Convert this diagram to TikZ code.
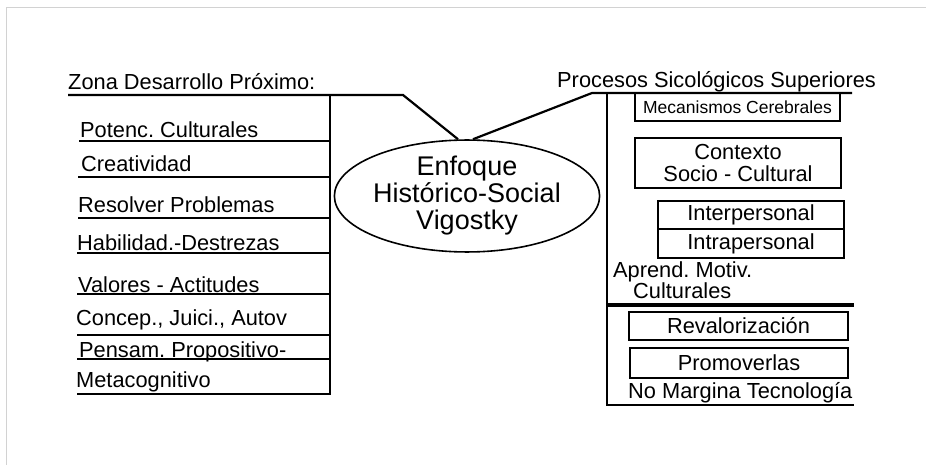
\documentclass[tikz,border=0pt]{standalone}
\usepackage{fontspec}
\setmainfont{Liberation Sans}
\usetikzlibrary{shapes.geometric}
\frenchspacing
\tikzset{
  txt/.style={anchor=base west, inner sep=0pt, font=\fontsize{21.8}{22}\selectfont},
  boxed/.style={draw, line width=1.8pt, inner sep=0pt, align=center, font=\fontsize{21.8}{22}\selectfont},
  rule/.style={line width=2.2pt}
}
\begin{document}
\begin{tikzpicture}[x=1pt, y=-1pt]
\useasboundingbox (0,0) rectangle (926,465);
\draw[gray!35, line width=1pt] (6,465) -- (6,8) -- (926,8);

\node[ellipse, draw, line width=1.6pt, minimum width=245pt, minimum height=108pt, inner sep=0pt, align=center, font=\fontsize{27}{27}\selectfont] (enf) at (467,196) {Enfoque\\Histórico-Social\\Vigostky};

\node[txt] (zona) at (68,90) {Zona Desarrollo Próximo:};
\coordinate (z0) at (68,95);
\coordinate (z1) at (403,95);
\coordinate (zv) at (330,95);
\coordinate (zb) at (330,395);
\draw[rule] (z0) -- (z1) -- ([xshift=-9pt]enf.north);
\draw[rule] (zv) -- (zb);

\node[txt] (pot) at (80,138) {Potenc. Culturales};
\node[txt] (cre) at (81,172) {Creatividad};
\node[txt] (res) at (78,213) {Resolver Problemas};
\node[txt] (hab) at (77,250) {Habilidad.-Destrezas};
\node[txt] (val) at (78,292) {Valores - Actitudes};
\node[txt] (con) at (76,325) {Concep., Juici., Autov};
\node[txt] (pen) at (79,357) {Pensam. Propositivo-};
\node[txt] (met) at (76,387) {Metacognitivo};
\coordinate (pot0) at (79,141);  \coordinate (pot1) at (330,141);
\coordinate (cre0) at (78,177);  \coordinate (cre1) at (330,177);
\coordinate (res0) at (78,218);  \coordinate (res1) at (330,218);
\coordinate (hab0) at (77,253);  \coordinate (hab1) at (330,253);
\coordinate (val0) at (77,294);  \coordinate (val1) at (330,294);
\coordinate (con0) at (77,335);  \coordinate (con1) at (330,335);
\coordinate (pen0) at (77,359);  \coordinate (pen1) at (330,359);
\coordinate (met0) at (77,394);  \coordinate (met1) at (330,394);
\draw[rule] (pot0) -- (pot1);
\draw[rule] (cre0) -- (cre1);
\draw[rule] (res0) -- (res1);
\draw[rule] (hab0) -- (hab1);
\draw[rule] (val0) -- (val1);
\draw[rule] (con0) -- (con1);
\draw[rule] (pen0) -- (pen1);
\draw[rule] (met0) -- (met1);

\node[txt] (pro) at (557,88) {Procesos Sicológicos Superiores};
\coordinate (p0) at (592,93);
\coordinate (p1) at (852,93);
\coordinate (pv) at (607,93);
\coordinate (pb) at (607,405);
\coordinate (pe) at (854,405);
\draw[rule] (p1) -- (p0) -- ([xshift=6pt]enf.north);
\draw[rule] (pv) -- (pb) -- (pe);

\node[boxed, minimum width=205pt, minimum height=28pt, font=\fontsize{17.5}{18}\selectfont] (mec) at (737.5,107) {Mecanismos Cerebrales};
\node[boxed, minimum width=206pt, minimum height=50pt] (ctx) at (738,163) {Contexto\\Socio - Cultural};
\node[boxed, minimum width=186pt, minimum height=28pt] (inter) at (751,215) {Interpersonal};
\node[boxed, minimum width=186pt, minimum height=29pt] (intra) at (751,243.5) {Intrapersonal};

\node[txt] (apr) at (613,277) {Aprend. Motiv.};
\node[txt] (cul) at (633,298) {Culturales};
\coordinate (s0) at (607,305);
\coordinate (s1) at (854,305);
\draw[line width=4pt] (s0) -- (s1);

\node[boxed, minimum width=219pt, minimum height=28pt] (rev) at (738.5,326) {Revalorización};
\node[boxed, minimum width=218pt, minimum height=30pt] (prm) at (739,363) {Promoverlas};
\node[txt] (nom) at (628,398) {No Margina Tecnología};
\end{tikzpicture}
\end{document}
